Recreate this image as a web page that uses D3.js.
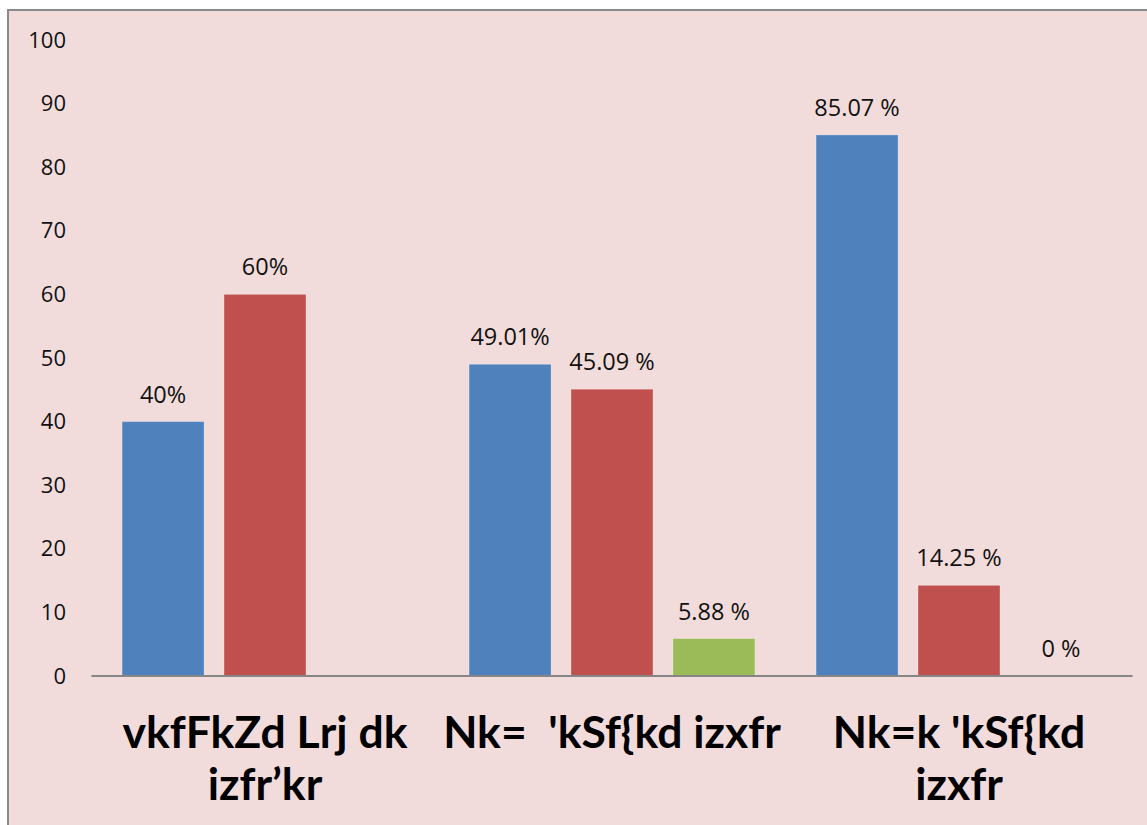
<!DOCTYPE html>
<html>
<head>
<meta charset="utf-8">
<script src="https://cdn.jsdelivr.net/npm/d3@7"></script>
<style>
  html, body { margin: 0; padding: 0; background: #ffffff; }
  svg { display: block; }
</style>
</head>
<body>
<svg id="chart" width="1147" height="825"></svg>
<script>
// Category captions, one entry per line
const categories = [
  ["vkfFkZd Lrj dk", "izfr’kr"],
  ["Nk=  'kSf{kd izxfr"],
  ["Nk=k 'kSf{kd", "izxfr"]
];

// Series values per category (null = no bar)
const seriesBlue  = [40, 49.01, 85.07];
const seriesRed   = [60, 45.09, 14.25];
const seriesGreen = [null, 5.88, 0];

// Data label texts
const labelsBlue  = ["40%", "49.01%", "85.07 %"];
const labelsRed   = ["60%", "45.09 %", "14.25 %"];
const labelsGreen = [null, "5.88 %", "0 %"];

const seriesColors = ["#4F81BD", "#C0504D", "#9BBB59"];
const yTicks = [0, 10, 20, 30, 40, 50, 60, 70, 80, 90, 100];

const allSeries = [
  { values: seriesBlue,  labels: labelsBlue },
  { values: seriesRed,   labels: labelsRed },
  { values: seriesGreen, labels: labelsGreen }
];

const svg = d3.select("#chart");
const W = 1147, H = 825;

// Chart area background and frame
svg.append("rect")
  .attr("x", 8).attr("y", 10)
  .attr("width", W - 8).attr("height", H - 10)
  .attr("fill", "#F2DCDB");
svg.append("path")
  .attr("d", `M8,${H} L8,10 L${W},10`)
  .attr("fill", "none")
  .attr("stroke", "#8a8a8a")
  .attr("stroke-width", 2);

const x0 = d3.scaleBand()
  .domain(d3.range(categories.length))
  .range([91.5, 1132.5])
  .paddingInner(0)
  .paddingOuter(0);

const x1 = d3.scaleBand()
  .domain(d3.range(allSeries.length))
  .range([0, x0.bandwidth()])
  .paddingInner(0.196)
  .paddingOuter(0.3);

const y = d3.scaleLinear().domain([0, 100]).range([676, 40]);

// Y axis tick labels (no axis line, no gridlines)
const yAxis = d3.axisLeft(y).tickValues(yTicks).tickSize(0).tickPadding(0);
const yg = svg.append("g")
  .attr("transform", "translate(66,0)")
  .call(yAxis);
yg.select(".domain").remove();
yg.selectAll("text")
  .attr("font-family", "'Open Sans', 'Noto Sans', sans-serif")
  .attr("font-size", 22)
  .attr("fill", "#111");

// Bars
const groups = svg.append("g").selectAll("g")
  .data(categories.map((c, i) => i))
  .join("g")
  .attr("transform", i => `translate(${x0(i)},0)`);

groups.each(function(ci) {
  const g = d3.select(this);
  const items = allSeries
    .map((s, si) => ({ si, v: s.values[ci], label: s.labels[ci] }))
    .filter(d => d.v !== null);

  g.selectAll("rect")
    .data(items.filter(d => d.v > 0))
    .join("rect")
    .attr("x", d => x1(d.si))
    .attr("y", d => y(d.v))
    .attr("width", x1.bandwidth())
    .attr("height", d => y(0) - y(d.v))
    .attr("fill", d => seriesColors[d.si])
    .attr("stroke", "rgba(255,255,255,0.25)")
    .attr("stroke-width", 1);

  g.selectAll("text.value")
    .data(items)
    .join("text")
    .attr("class", "value")
    .attr("x", d => x1(d.si) + x1.bandwidth() / 2)
    .attr("y", d => y(d.v) - 19)
    .attr("text-anchor", "middle")
    .attr("font-family", "'Open Sans', 'Noto Sans', sans-serif")
    .attr("font-size", 23.5)
    .attr("fill", "#111")
    .text(d => d.label);
});

// Baseline at zero
svg.append("line")
  .attr("x1", x0.range()[0]).attr("x2", x0.range()[1])
  .attr("y1", y(0)).attr("y2", y(0))
  .attr("stroke", "#868686")
  .attr("stroke-width", 2);

// Category captions
const cat = svg.append("g").selectAll("text")
  .data(categories)
  .join("text")
  .attr("x", (d, i) => x0(i) + x0.bandwidth() / 2)
  .attr("y", y(0) + 72)
  .attr("text-anchor", "middle")
  .attr("font-family", "Lato, 'Open Sans', sans-serif")
  .attr("font-weight", "bold")
  .attr("font-size", 44.5)
  .attr("fill", "#000")
  .style("white-space", "pre");

cat.selectAll("tspan")
  .data(d => d)
  .join("tspan")
  .attr("x", function() { return d3.select(this.parentNode).attr("x"); })
  .attr("dy", (d, i) => i === 0 ? 0 : 52)
  .text(d => d);
</script>
</body>
</html>
